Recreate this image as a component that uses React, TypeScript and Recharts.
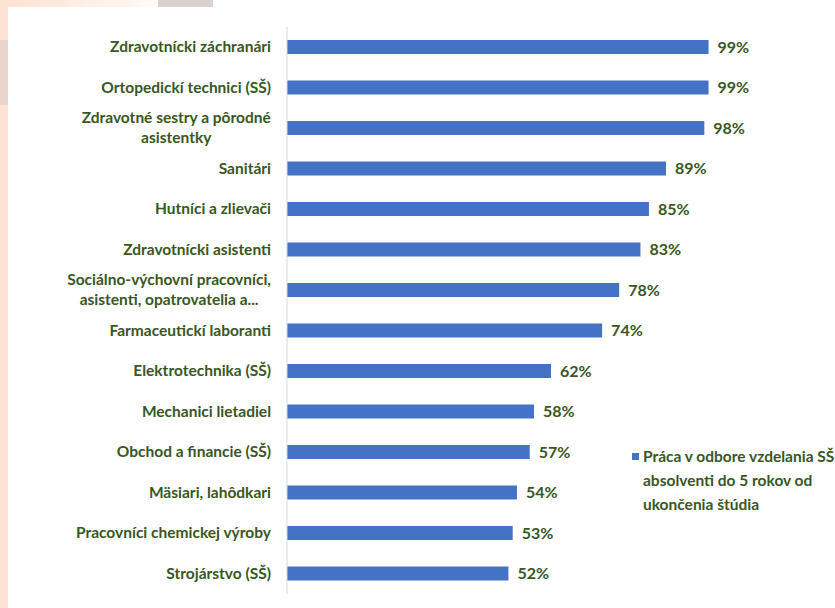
import React from "react";
import { BarChart, Bar, XAxis, YAxis, LabelList } from "recharts";

const categories: string[][] = [
  ["Zdravotnícki záchranári"],
  ["Ortopedickí technici (SŠ)"],
  ["Zdravotné sestry a pôrodné", "asistentky"],
  ["Sanitári"],
  ["Hutníci a zlievači"],
  ["Zdravotnícki asistenti"],
  ["Sociálno-výchovní pracovníci,", "asistenti, opatrovatelia a..."],
  ["Farmaceutickí laboranti"],
  ["Elektrotechnika (SŠ)"],
  ["Mechanici lietadiel"],
  ["Obchod a financie (SŠ)"],
  ["Mäsiari, lahôdkari"],
  ["Pracovníci chemickej výroby"],
  ["Strojárstvo (SŠ)"],
];
const values: number[] = [99, 99, 98, 89, 85, 83, 78, 74, 62, 58, 57, 54, 53, 52];
const seriesName = "Práca v odbore vzdelania SŠ absolventi do 5 rokov od ukončenia štúdia";
const legendLines: string[] = ["Práca v odbore vzdelania SŠ", "absolventi do 5 rokov od", "ukončenia štúdia"];

const data = categories.map((c, i) => ({ name: c.join("\n"), value: values[i] }));

const GREEN = "#385723";
const BLUE = "#4472C4";
const FONT = "Lato, 'Open Sans', sans-serif";
const TICK_FS = 15.5;

let ctx: CanvasRenderingContext2D | null = null;
function measure(text: string, size: number): number {
  if (!ctx) {
    const c = document.createElement("canvas");
    ctx = c.getContext("2d");
  }
  if (!ctx) return text.length * size * 0.5;
  ctx.font = `bold ${size}px Lato`;
  return ctx.measureText(text).width;
}

const CategoryTick = (props: any) => {
  const { x, y, payload } = props;
  const lines: string[] = String(payload.value).split("\n");
  if (lines.length === 1) {
    return (
      <text x={x} y={y} dy={5} textAnchor="end" fill={GREEN} fontFamily={FONT} fontWeight={700} fontSize={TICK_FS}>
        {lines[0]}
      </text>
    );
  }
  const maxW = Math.max(...lines.map((l) => measure(l, TICK_FS)));
  const cx = x - maxW / 2;
  const lh = 20;
  const startY = y - ((lines.length - 1) * lh) / 2;
  return (
    <g>
      {lines.map((l, i) => (
        <text key={i} x={cx} y={startY + i * lh} dy={5} textAnchor="middle" fill={GREEN} fontFamily={FONT} fontWeight={700} fontSize={TICK_FS}>
          {l}
        </text>
      ))}
    </g>
  );
};

export default function App() {
  return (
    <div style={{ position: "absolute", left: 0, top: 0, width: 835, height: 608, overflow: "hidden", background: "#FEE3D4" }}>
      <div style={{ position: "absolute", left: 8, top: 0, width: 827, height: 7, background: "linear-gradient(90deg, #FEE3D4 0px, #FFF3EC 110px, #FFFFFF 170px, #FFFFFF 100%)" }} />
      <div style={{ position: "absolute", left: 158, top: 0, width: 55, height: 7, background: "#DAD1CD" }} />
      <div style={{ position: "absolute", left: 0, top: 40, width: 8, height: 65, background: "#E9D5CC" }} />
      <div style={{ position: "absolute", left: 8, top: 7, width: 827, height: 601, background: "#FFFFFF" }}>
        <BarChart
          width={827}
          height={601}
          data={data}
          layout="vertical"
          margin={{ top: 20, right: 37, bottom: 14, left: 0 }}
          barSize={14}
        >
          <XAxis type="number" domain={[0, 120]} hide />
          <YAxis
            type="category"
            dataKey="name"
            width={279}
            tickLine={false}
            tickSize={0}
            tickMargin={16}
            axisLine={{ stroke: "#D9D9D9", strokeWidth: 1 }}
            tick={<CategoryTick />}
            interval={0}
          />
          <Bar dataKey="value" name={seriesName} fill={BLUE} isAnimationActive={false}>
            <LabelList
              dataKey="value"
              position="right"
              offset={9}
              formatter={(v: any) => `${v}%`}
              fill={GREEN}
              fontFamily={FONT}
              fontWeight={700}
              fontSize={16}
            />
          </Bar>
        </BarChart>
      </div>
      <div style={{ position: "absolute", left: 632, top: 444, width: 203, height: 80, fontFamily: FONT, fontWeight: 700, fontSize: 15.5, color: GREEN, lineHeight: "24px" }}>
        <div style={{ position: "absolute", left: 0, top: 9, width: 7, height: 7, background: BLUE }} />
        <div style={{ position: "absolute", left: 11, top: 0, whiteSpace: "nowrap" }}>
          {legendLines.map((l, i) => (
            <div key={i}>{l}</div>
          ))}
        </div>
      </div>
    </div>
  );
}
